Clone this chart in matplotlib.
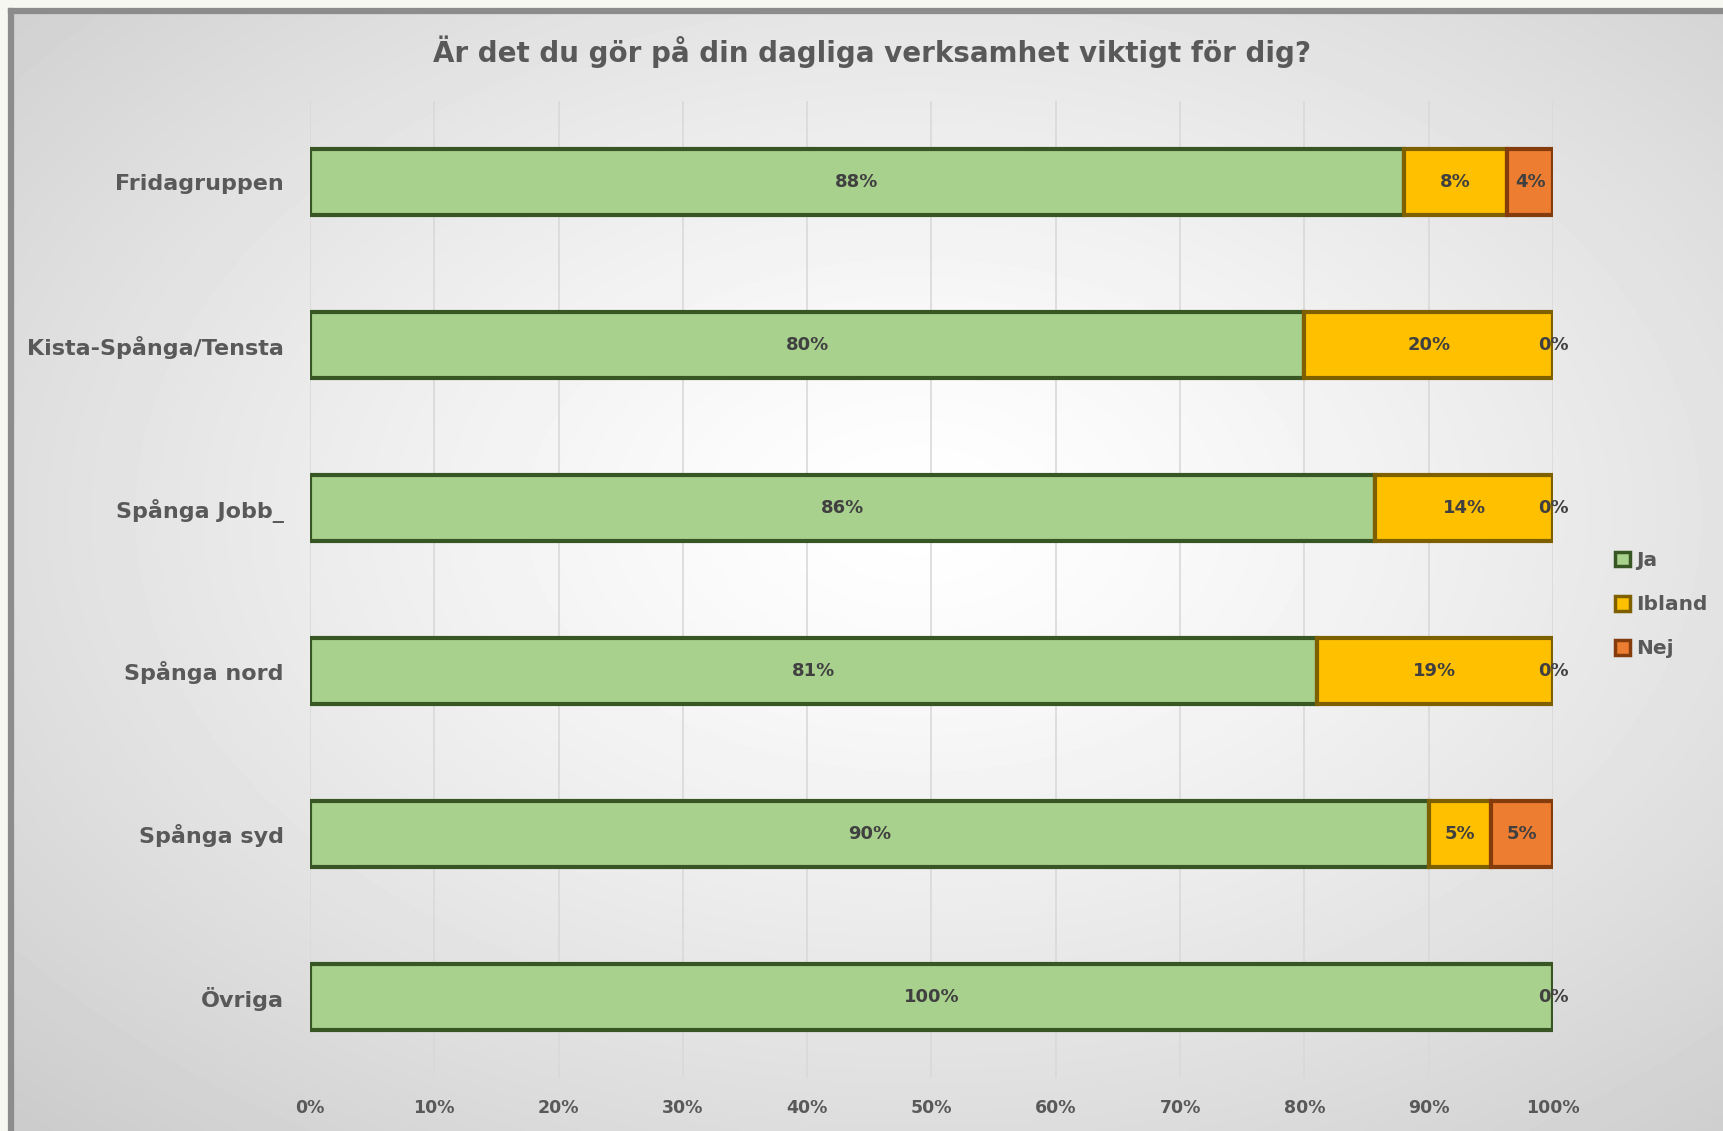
import numpy as np
import matplotlib.pyplot as plt
from matplotlib.lines import Line2D

plt.rcParams['font.family'] = ['DejaVu Sans']

# data
categories = ['Fridagruppen', 'Kista-Spånga/Tensta', 'Spånga Jobb_',
              'Spånga nord', 'Spånga syd', 'Övriga']
ja = [88.0, 80.0, 85.7, 81.0, 90.0, 100.0]
ibland = [8.3, 20.0, 14.3, 19.0, 5.0, 0.0]
nej = [3.7, 0.0, 0.0, 0.0, 5.0, 0.0]
series = ['Ja', 'Ibland', 'Nej']
fills = ['#a9d18e', '#ffc000', '#ed7d31']
edges = ['#375623', '#7f6000', '#843c0c']

W, H = 1723, 1131
fig = plt.figure(figsize=(W / 100, H / 100), dpi=100)
fig.patch.set_facecolor('#f7f7f2')

# background with radial gradient
bg = fig.add_axes([11 / W, 0, 1 - 11 / W, 1 - 11 / H])
yy, xx = np.mgrid[0:1:300j, 0:1:400j]
r = np.sqrt(((xx - 0.53) / 0.75) ** 2 + ((yy - 0.45) / 0.75) ** 2)
shade = 1.0 - 0.2 * np.clip(r, 0, 1) ** 1.3
bg.imshow(shade, cmap='gray', vmin=0, vmax=1, aspect='auto',
          extent=[0, 1, 1, 0], interpolation='bicubic')
bg.set_axis_off()
fig.add_artist(Line2D([11 / W, 11 / W], [0, 1 - 11 / H], color='#8c8c8c', lw=4.5))
fig.add_artist(Line2D([11 / W, 1], [1 - 11 / H, 1 - 11 / H], color='#8c8c8c', lw=4.5))

ax = fig.add_axes([310 / W, 1 - 1078 / H, (1553 - 310) / W, (1078 - 101) / H])
ax.set_facecolor('none')

y = np.arange(len(categories))
left = np.zeros(len(categories))
handles = []
for name, vals, fc, ec in zip(series, [ja, ibland, nej], fills, edges):
    vals = np.array(vals)
    lws = [3 if v > 0 else 0 for v in vals]
    bars = ax.barh(y, vals, left=left, height=0.405, color=fc, edgecolor=ec,
                   linewidth=lws, label=name, zorder=3)
    handles.append(bars)
    for yi, li, v in zip(y, left, vals):
        if name == 'Ibland' and v == 0 and nej[yi] == 0:
            continue
        ax.text(li + v / 2, yi, f'{v:.0f}%', ha='center', va='center',
                fontsize=13, fontweight='bold', color='#404040', zorder=4)
    left = left + vals

ax.set_xlim(0, 100)
ax.set_ylim(len(categories) - 0.5, -0.5)
ax.set_yticks(y)
ax.set_yticklabels(categories, fontsize=16, fontweight='bold', color='#595959')
ax.set_xticks(np.arange(0, 101, 10))
ax.set_xticklabels([f'{t}%' for t in range(0, 101, 10)], fontsize=12.5,
                   fontweight='bold', color='#595959')
ax.tick_params(axis='both', length=0)
ax.tick_params(axis='y', pad=19)
ax.tick_params(axis='x', pad=15)
ax.grid(axis='x', color='#d9d9d9', lw=1.2, zorder=0)
for s in ax.spines.values():
    s.set_visible(False)

fig.text(0.506, 0.954, 'Är det du gör på din dagliga verksamhet viktigt för dig?',
         ha='center', va='center', fontsize=20, fontweight='bold', color='#595959')

leg = fig.legend(handles=handles, labels=series, loc='upper left',
                 bbox_to_anchor=(1597 / W, 1 - 533 / H), frameon=False,
                 handlelength=0.75, handleheight=0.75, handletextpad=0.3,
                 labelspacing=1.25, prop={'size': 14.5, 'weight': 'bold'})
for t in leg.get_texts():
    t.set_color('#595959')
for h in leg.legend_handles:
    h.set_linewidth(2.5)

fig.savefig('out.png', dpi=100)
